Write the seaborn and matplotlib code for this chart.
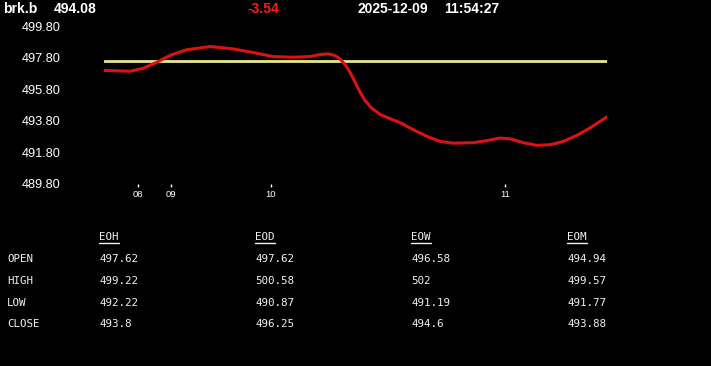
import matplotlib
matplotlib.use("Agg")
import matplotlib.pyplot as plt
from matplotlib.lines import Line2D
import seaborn as sns
import pandas as pd

# ---------------- data ----------------
symbol = "brk.b"
last_price = 494.08
change = -3.54
date_str = "2025-12-09"
time_str = "11:54:27"

bar_index = [0, 5.2, 7.8, 10.5, 13.1, 16.4, 21.1, 25.6, 29.6, 33.6, 37.6, 40.95,
             42.9, 44.6, 45.9, 46.9, 47.9, 48.9, 49.9, 50.9, 51.9, 53.2, 54.9,
             56.9, 58.8, 61.5, 64.2, 66.8, 69.4, 73.4, 76.1, 78.7, 80.7, 83.4,
             86.0, 88.7, 91.3, 94.0, 96.7, 100]
price = [497.00, 496.95, 497.14, 497.52, 497.95, 498.31, 498.52, 498.37, 498.14,
         497.88, 497.84, 497.88, 498.01, 498.05, 497.95, 497.74, 497.38, 496.89,
         496.26, 495.62, 495.10, 494.61, 494.21, 493.94, 493.70, 493.24, 492.82,
         492.50, 492.39, 492.42, 492.55, 492.71, 492.67, 492.42, 492.25, 492.29,
         492.50, 492.88, 493.37, 494.06]
open_price = 497.62

hour_tick_pos = [6.8, 13.3, 33.2, 79.7]
hour_tick_labels = ["08", "09", "10", "11"]

y_ticks = [489.80, 491.80, 493.80, 495.80, 497.80, 499.80]

table_columns = ["EOH", "EOD", "EOW", "EOM"]
table_rows = ["OPEN", "HIGH", "LOW", "CLOSE"]
eoh_values = ["497.62", "499.22", "492.22", "493.8"]
eod_values = ["497.62", "500.58", "490.87", "496.25"]
eow_values = ["496.58", "502", "491.19", "494.6"]
eom_values = ["494.94", "499.57", "491.77", "493.88"]

# ---------------- style ----------------
sns.set_theme(style="dark", rc={
    "figure.facecolor": "black",
    "axes.facecolor": "black",
    "savefig.facecolor": "black",
    "axes.grid": False,
})
plt.rcParams["font.family"] = ["Liberation Sans", "DejaVu Sans"]

W, H = 711, 366
fig = plt.figure(figsize=(W / 100, H / 100), dpi=100)

def fx(px):
    return px / W

def fy(py):
    return 1 - py / H

ax_left, ax_right = 104, 607
ax_top, ax_bottom = 26.3, 184
ax = fig.add_axes([fx(ax_left), fy(ax_bottom), (ax_right - ax_left) / W,
                   (ax_bottom - ax_top) / H])
ax.set_facecolor("black")

df = pd.DataFrame({"bar": bar_index, "price": price})
ax.axhline(open_price, color="#e6e68c", lw=2, zorder=1)
sns.lineplot(data=df, x="bar", y="price", ax=ax, color="#dd1111", lw=2.2,
             zorder=2, solid_joinstyle="round", solid_capstyle="round")

ax.set_xlim(0, 100)
ax.set_ylim(489.8, 499.8)
for s in ax.spines.values():
    s.set_visible(False)
ax.set_xlabel("")
ax.set_ylabel("")

ax.set_yticks(y_ticks)
ax.set_yticklabels([f"{v:.2f}" for v in y_ticks])
ax.tick_params(axis="y", length=0, pad=31, labelsize=9.2, labelcolor="white",
               left=True)
for lbl in ax.get_yticklabels():
    lbl.set_horizontalalignment("right")

ax.set_xticks(hour_tick_pos)
ax.set_xticklabels(hour_tick_labels)
ax.tick_params(axis="x", direction="out", length=2.4, width=1, color="white",
               labelsize=6.8, labelcolor="white", pad=1.6, bottom=True)

# ---------------- header ----------------
hy = fy(8.7)
fig.text(fx(3), hy, symbol, color="white", fontsize=10, fontweight="bold",
         va="center", ha="left")
fig.text(fx(54), hy, f"{last_price:.2f}", color="white", fontsize=10,
         fontweight="bold", va="center", ha="left")
fig.text(fx(247), hy, f"{change:.2f}", color="#ff1a1a", fontsize=10,
         fontweight="bold", va="center", ha="left")
fig.text(fx(357), hy, date_str, color="white", fontsize=10, fontweight="bold",
         va="center", ha="left")
fig.text(fx(444), hy, time_str, color="white", fontsize=10, fontweight="bold",
         va="center", ha="left")

# ---------------- table ----------------
mono = ["DejaVu Sans Mono"]
tcol = "#f0f0f0"
fs = 7.8
col_x = [99, 255, 411, 567]
row_y = [259, 281, 302.5, 324]
header_y = 237.5

for r, name in zip(row_y, table_rows):
    fig.text(fx(7), fy(r), name, family=mono, fontsize=fs, color=tcol,
             va="center", ha="left")

headers = []
for cx, name in zip(col_x, table_columns):
    headers.append(fig.text(fx(cx), fy(header_y), name, family=mono,
                            fontsize=fs, color=tcol, va="center", ha="left"))

for cx, vals in zip(col_x, [eoh_values, eod_values, eow_values, eom_values]):
    for r, v in zip(row_y, vals):
        fig.text(fx(cx), fy(r), v, family=mono, fontsize=fs, color=tcol,
                 va="center", ha="left")

fig.canvas.draw()
renderer = fig.canvas.get_renderer()
for t in headers:
    bb = t.get_window_extent(renderer)
    fig.add_artist(Line2D([bb.x0 / W, bb.x1 / W], [fy(242.7), fy(242.7)],
                          color=tcol, lw=1, transform=fig.transFigure))

fig.savefig("out.png", dpi=100, facecolor="black")
